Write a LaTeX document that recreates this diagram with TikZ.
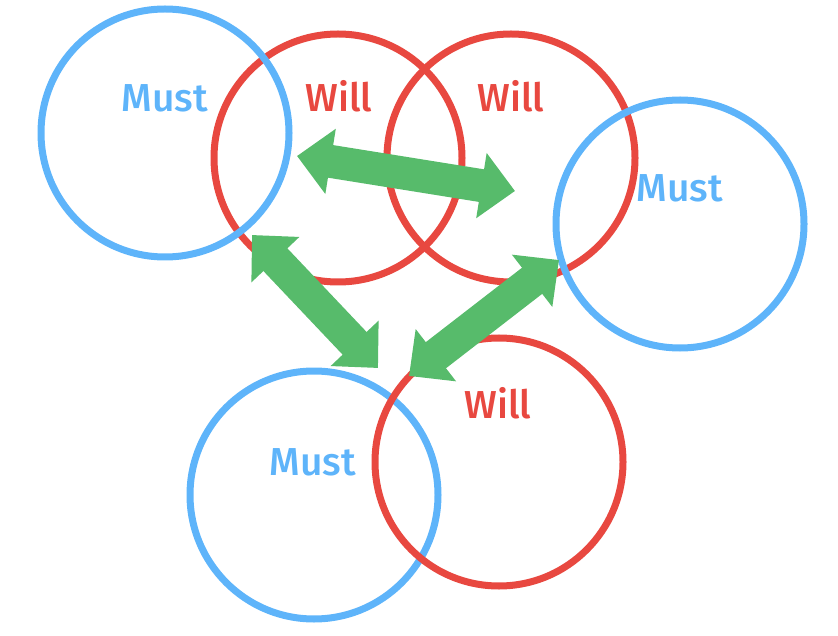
\documentclass[tikz,border=0pt]{standalone}
\usepackage{fontspec}
\newfontfamily\labfont{Fira Sans}[UprightFont=* Medium]
\usetikzlibrary{arrows.meta}
\definecolor{mustblue}{RGB}{94,180,250}
\definecolor{willred}{RGB}{232,72,64}
\definecolor{arrgreen}{RGB}{87,187,107}

\begin{document}
\begin{tikzpicture}[x=1pt,y=-1pt,
    mustring/.style={circle, draw=mustblue, line width=7pt, minimum size=248pt, inner sep=0pt},
    willring/.style={circle, draw=willred, line width=7pt, minimum size=248pt, inner sep=0pt},
    lab/.style={font=\labfont\fontsize{39}{39}\selectfont, inner sep=0pt, anchor=base},
    bigarrow/.style={arrgreen, line width=33pt, {Triangle[width=64pt,length=34pt]}-{Triangle[width=64pt,length=34pt]}}]
    \useasboundingbox (0,0) rectangle (838,636);
    % rings
    \node[willring] (w1) at (338,158) {};
    \node[willring] (w2) at (511,158) {};
    \node[mustring] (m1) at (165,133) {};
    \node[mustring] (m2) at (680,224) {};
    \node[mustring] (m3) at (314,495) {};
    \node[willring] (w3) at (499,462) {};
    % labels
    \node[lab, text=mustblue] (t1) at (165,112) {Must};
    \node[lab, text=willred] (t2) at (339,112) {Will};
    \node[lab, text=willred] (t3) at (511,112) {Will};
    \node[lab, text=mustblue] (t4) at (680,202) {Must};
    \node[lab, text=mustblue] (t5) at (313,475) {Must};
    \node[lab, text=willred] (t6) at (498,418) {Will};
    % arrow ends
    \coordinate (a1) at (297,156);
    \coordinate (a2) at (515,191);
    \coordinate (b1) at (252,235);
    \coordinate (b2) at (378,368);
    \coordinate (c1) at (559,260);
    \coordinate (c2) at (409,376);
    \draw[bigarrow] (a1) -- (a2);
    \draw[bigarrow] (b1) -- (b2);
    \draw[bigarrow] (c1) -- (c2);
\end{tikzpicture}
\end{document}
